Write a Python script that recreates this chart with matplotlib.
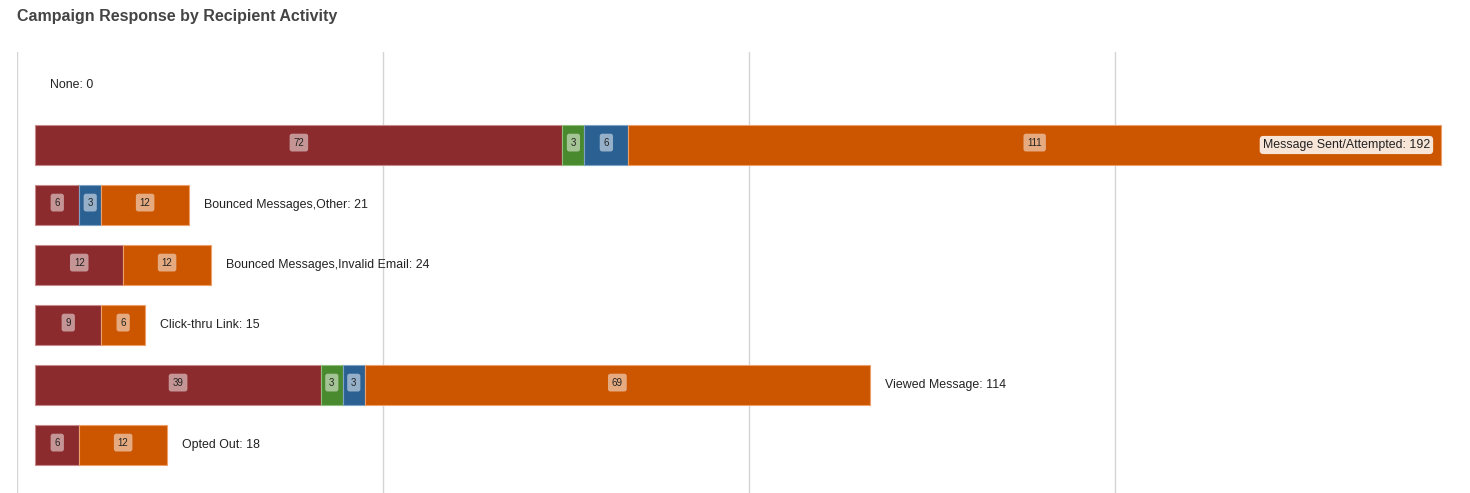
import matplotlib.pyplot as plt
import numpy as np

plt.rcParams['font.family'] = ['Liberation Sans', 'DejaVu Sans']

# data
activities = ['None', 'Message Sent/Attempted', 'Bounced Messages,Other',
              'Bounced Messages,Invalid Email', 'Click-thru Link',
              'Viewed Message', 'Opted Out']
seg_red = [0, 72, 6, 12, 9, 39, 6]
seg_green = [0, 3, 0, 0, 0, 3, 0]
seg_blue = [0, 6, 3, 0, 0, 3, 0]
seg_orange = [0, 111, 12, 12, 6, 69, 12]

series = [seg_red, seg_green, seg_blue, seg_orange]
colors = ['#8b2b2e', '#4a8a2e', '#2b6192', '#cc5500']
edges = ['#c98a8c', '#8fbf7a', '#7fa3c6', '#eea06a']

fig = plt.figure(figsize=(14.7, 4.93), dpi=100)
ax = fig.add_axes([17 / 1470, 0, (1462 - 17) / 1470, (493 - 52) / 493])

y = np.arange(len(activities))
left = np.zeros(len(activities))
for vals, c, ec in zip(series, colors, edges):
    vals = np.array(vals, dtype=float)
    keep = vals > 0
    ax.barh(y[keep], vals[keep], left=left[keep], height=0.667, color=c,
            edgecolor=ec, linewidth=0.8, zorder=3)
    for yi, v, l in zip(y, vals, left):
        if v > 0:
            ax.text(l + v / 2, yi - 0.04, f'{int(v)}', ha='center', va='center',
                    fontsize=7, color='#222', zorder=5,
                    bbox=dict(boxstyle='round,pad=0.4,rounding_size=0.25',
                              fc='white', ec='none', alpha=0.5))
    left += vals

totals = left
xmax = (1462 - 35) / 7.323
for yi, name, t in zip(y, activities, totals):
    label = f'{name}: {int(t)}'
    if t > 150:
        ax.text(t - 1.5, yi, label, ha='right', va='center', fontsize=8.9,
                color='#222', zorder=5,
                bbox=dict(boxstyle='round,pad=0.25,rounding_size=0.3',
                          fc='white', ec='none', alpha=0.85))
    else:
        ax.text(t + 2.05, yi, label, ha='left', va='center', fontsize=8.9,
                color='#222', zorder=5)

ax.set_xlim(-2.46, xmax)
ax.set_ylim(6.8, -0.55)
ax.set_xticks([-2.5, 47.5, 97.5, 147.5])
ax.set_yticks([])
ax.tick_params(axis='x', length=0, labelbottom=False)
ax.grid(axis='x', color='#d4d4d4', linewidth=1, zorder=0)
for s in ax.spines.values():
    s.set_visible(False)

fig.text(17 / 1470, 1 - 16 / 493, 'Campaign Response by Recipient Activity',
         ha='left', va='center', fontsize=11.5, fontweight='bold', color='#444')

fig.savefig('out.png', dpi=100)
